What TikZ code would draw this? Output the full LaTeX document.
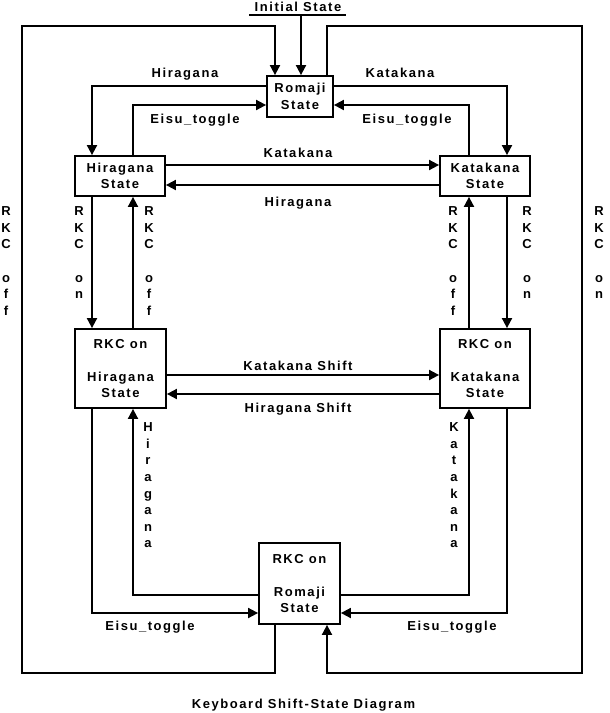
\documentclass[tikz,border=0pt]{standalone}
\usepackage{fontspec}
\setmainfont{Liberation Sans}[LetterSpace=12]
\usetikzlibrary{arrows.meta}
\begin{document}
\begin{tikzpicture}[x=1pt,y=-1pt,
  every node/.style={font=\bfseries\fontsize{13}{16.6}\selectfont, inner sep=0pt},
  box/.style={draw, line width=1.8pt, align=center},
  arr/.style={line width=1.8pt, -{Triangle[length=10pt,width=10pt]}},
  lbl/.style={anchor=base},
  vlbl/.style={anchor=north, align=center}]
\fill[white] (0,0) rectangle (610,713);
\useasboundingbox (0,0) rectangle (610,713);

% states
\node[box, minimum width=66pt, minimum height=41pt] (R) at (300,96.5) {Romaji\\State};
\node[box, minimum width=90pt, minimum height=40pt] (H) at (120,176) {Hiragana\\State};
\node[box, minimum width=90pt, minimum height=40pt] (K) at (485,176) {Katakana\\State};
\node[box, minimum width=91pt, minimum height=79pt] (RH) at (120.5,368.5) {RKC on\\[16.6pt]Hiragana\\State};
\node[box, minimum width=90pt, minimum height=79pt] (RK) at (485,368.5) {RKC on\\[16.6pt]Katakana\\State};
\node[box, minimum width=81pt, minimum height=81pt] (RR) at (299.5,583.5) {RKC on\\[16.6pt]Romaji\\State};

% initial state
\node[lbl] (init) at (298,11.5) {Initial State};
\coordinate (ul) at (249,15);
\coordinate (ur) at (346,15);
\coordinate (ui) at (301,15);
\draw[line width=1.2pt] (ul) -- (ur);
\draw[arr] (ui) -- (ui |- R.north);

% outer loops
\draw[arr] (275,0 |- RR.south) -- (275,673) -- (22,673) -- (22,26) -- (275,26) -- (275,0 |- R.north);
\draw[arr] (327,0 |- R.north) -- (327,26) -- (582,26) -- (582,673) -- (327,673) -- (327,0 |- RR.south);

% Romaji <-> Hiragana / Katakana
\draw[arr] (R.west |- 0,86) -| (92,0 |- H.north);
\draw[arr] (R.east |- 0,86) -| (507,0 |- K.north);
\draw[arr] (133,0 |- H.north) |- (R.west |- 0,105);
\draw[arr] (469,0 |- K.north) |- (R.east |- 0,105);

% Hiragana <-> Katakana
\draw[arr] (H.east |- 0,165) -- (K.west |- 0,165);
\draw[arr] (K.west |- 0,185) -- (H.east |- 0,185);

% vertical RKC on/off
\draw[arr] (92,0 |- H.south) -- (92,0 |- RH.north);
\draw[arr] (133,0 |- RH.north) -- (133,0 |- H.south);
\draw[arr] (507,0 |- K.south) -- (507,0 |- RK.north);
\draw[arr] (469,0 |- RK.north) -- (469,0 |- K.south);

% shifts
\draw[arr] (RH.east |- 0,375) -- (RK.west |- 0,375);
\draw[arr] (RK.west |- 0,394) -- (RH.east |- 0,394);

% RKC on Romaji
\draw[arr] (RR.west |- 0,595) -| (133,0 |- RH.south);
\draw[arr] (RR.east |- 0,595) -| (469,0 |- RK.south);
\draw[arr] (92,0 |- RH.south) |- (RR.west |- 0,613);
\draw[arr] (507,0 |- RK.south) |- (RR.east |- 0,613);

% labels
\node[lbl] (l1) at (185,77.5) {Hiragana};
\node[lbl] (l2) at (400,77.5) {Katakana};
\node[lbl] (l3) at (195,123.5) {Eisu\_toggle};
\node[lbl] (l4) at (407,123.5) {Eisu\_toggle};
\node[lbl] (l5) at (298,157.5) {Katakana};
\node[lbl] (l6) at (298,206.5) {Hiragana};
\node[lbl] (l7) at (298,370.5) {Katakana Shift};
\node[lbl] (l8) at (298,412.5) {Hiragana Shift};
\node[lbl] (l9) at (150,630.5) {Eisu\_toggle};
\node[lbl] (l10) at (452,630.5) {Eisu\_toggle};

\node[vlbl] (v1) at (6,206.5) {R\\K\\C\\[16.6pt]o\\f\\f};
\node[vlbl] (v2) at (79,206.5) {R\\K\\C\\[16.6pt]o\\n};
\node[vlbl] (v3) at (149,206.5) {R\\K\\C\\[16.6pt]o\\f\\f};
\node[vlbl] (v4) at (453,206.5) {R\\K\\C\\[16.6pt]o\\f\\f};
\node[vlbl] (v5) at (527,206.5) {R\\K\\C\\[16.6pt]o\\n};
\node[vlbl] (v6) at (599,206.5) {R\\K\\C\\[16.6pt]o\\n};
\node[vlbl] (v7) at (148,422.5) {H\\i\\r\\a\\g\\a\\n\\a};
\node[vlbl] (v8) at (454,422.5) {K\\a\\t\\a\\k\\a\\n\\a};

\node[lbl] (title) at (303.5,708) {Keyboard Shift-State Diagram};
\end{tikzpicture}
\end{document}
